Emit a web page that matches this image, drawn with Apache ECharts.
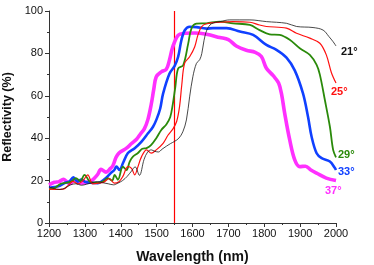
<!DOCTYPE html>
<html>
<head>
<meta charset="utf-8">
<script src="https://cdn.jsdelivr.net/npm/echarts@6/dist/echarts.min.js"></script>
<style>
html,body{margin:0;padding:0;background:#fff;}
#c{width:374px;height:265px;}
</style>
</head>
<body>
<div id="c"></div>
<script>
// Series names (angle labels)
const angleLabels = ['21°', '25°', '29°', '33°', '37°'];
const xTicks = [1200, 1300, 1400, 1500, 1600, 1700, 1800, 1900, 2000];
const yTicks = [0, 20, 40, 60, 80, 100];
const markerWavelength = 1550;

// 21°
const wl21 = [1200,1215,1230,1245,1260,1275,1290,1305,1320,1335,1350,1365,1380,1392,1405,1418,1430,1440,1452,1465,1475,1485,1495,1505,1515,1527,1539,1550,1562,1573,1583,1592,1601,1611,1620,1626,1632,1640,1653,1677,1704,1760,1806,1862,1890,1936,1964,1980,1992,2000];
const r21  = [17,16.3,15.8,16.5,18,18.5,17.8,18.3,19,19.5,19,18.5,18,18.8,20,22,24.5,26.5,22.5,30,33.5,34.5,33.8,33.5,34.8,36.2,37.5,38.5,40,43,48.6,59.5,69,75.3,77,80,86,91,94,95,95.8,95.8,95,94.2,92.7,92.2,91,88,85.5,83.5];

// 25°
const wl25 = [1200,1220,1240,1255,1266,1280,1295,1308,1322,1338,1353,1368,1382,1395,1406,1420,1430,1439,1448,1458,1472,1485,1499,1518,1532,1546,1556,1564,1570,1578,1592,1606,1615,1625,1639,1677,1713,1760,1787,1806,1862,1890,1927,1955,1973,1987,2000];
const r25  = [16,15.8,16,18,19.6,18.5,20,22.7,18.5,18.8,19.3,21,18.8,19.5,22,26.6,25.8,22.7,26.6,31.3,34.5,33,34.5,37.6,41.5,44.5,48,55,65,75.3,78.4,83,88.6,92.5,94,94.7,95,94.7,93.4,92.7,91.9,89.5,87.2,84.8,79.3,71,66];

// 29°
const wl29 = [1200,1215,1233,1250,1262,1275,1287,1299,1313,1325,1336,1350,1364,1376,1383,1392,1406,1416,1425,1434,1448,1460,1472,1485,1499,1513,1527,1538,1545,1552,1560,1574,1588,1597,1611,1639,1676,1713,1760,1787,1815,1843,1871,1899,1927,1946,1955,1969,1983,1992,2000];
const r29  = [16,16.5,18.5,19,19.5,21.2,19.8,22.7,19.6,19,19,19.5,21.2,20,22.7,20.4,26.6,25,29,31.3,33,35,35.3,36.8,40,43.9,46.5,50,56,64,72.9,74.4,84.6,91.7,94,94.2,95,94.2,93.4,91,89,88.7,86.4,82.4,79.3,74.6,70,58,45.4,34.5,31];

// 33°
const wl33 = [1200,1215,1230,1245,1256,1268,1280,1290,1300,1315,1336,1350,1359,1372,1382,1388,1397,1406,1420,1439,1458,1476,1490,1500,1510,1518,1536,1550,1560,1569,1578,1592,1611,1639,1657,1695,1732,1769,1806,1834,1862,1885,1908,1922,1932,1946,1960,1983,1997,2000];
const r33  = [16.5,17,17.5,19,19.5,21.5,19.5,20.5,19.5,19,18.8,20,21.2,23.5,25,26.6,25,28.2,33,35.3,38.4,42.3,45.4,49,54,61,70.5,74,78.4,86.2,90.8,92.6,92.4,91.7,91.9,91.9,90.3,88.7,84,81.7,78,72,61.1,50.1,40.7,32.9,30.6,29,25.9,25];

// 37°
const wl37 = [1200,1215,1228,1240,1250,1258,1271,1289,1305,1317,1327,1336,1345,1359,1370,1378,1387,1395,1416,1430,1444,1455,1466,1476,1485,1492,1499,1513,1527,1536,1543,1550,1560,1574,1606,1639,1676,1700,1722,1750,1775,1792,1806,1825,1840,1848,1857,1871,1885,1899,1915,1930,1946,1973,2000];
const r37  = [18,19.2,19.5,20.6,19.5,18.5,20.4,18.8,19.2,19.8,21.2,23,25.3,24,25.5,27,31,33,35.3,37.5,39.5,42,44.5,49,56,63,69,71.3,72.5,77,82,85.4,88.6,89.4,89.6,89,87.5,86.5,83.5,81.5,80.5,78.5,73,69.5,66,61,51.7,39.2,29.8,26.6,26.8,25,23.5,21.2,20];

const seriesData = [
  {wl: wl21, r: r21, color: '#1a1a1a', labelColor: '#111111', width: 0.8, offset: [3, 6]},
  {wl: wl25, r: r25, color: '#ff1010', labelColor: '#ff1010', width: 1.2, offset: [-7, 9]},
  {wl: wl29, r: r29, color: '#2a8a0a', labelColor: '#2a8a0a', width: 1.8, offset: [0, -2]},
  {wl: wl33, r: r33, color: '#1040ff', labelColor: '#1040ff', width: 2.6, offset: [0, 2]},
  {wl: wl37, r: r37, color: '#ff30ff', labelColor: '#ff30ff', width: 3.6, offset: [-13, 10]}
];

const chart = echarts.init(document.getElementById('c'), null, {renderer: 'canvas'});
const FONT = '"Liberation Sans", Arial, sans-serif';

const series = seriesData.map((s, i) => ({
  type: 'line',
  name: angleLabels[i],
  data: s.wl.map((x, k) => [x, s.r[k]]),
  smooth: 0.35,
  showSymbol: false,
  symbol: 'none',
  lineStyle: {color: s.color, width: s.width},
  itemStyle: {color: s.color},
  z: 10 - i,
  endLabel: {
    show: true,
    formatter: angleLabels[i],
    color: s.labelColor,
    fontFamily: FONT,
    fontWeight: 'bold',
    fontSize: 11,
    distance: 2,
    offset: s.offset
  }
}));

series.push({
  type: 'line',
  data: [],
  markLine: {
    silent: true,
    symbol: 'none',
    label: {show: false},
    lineStyle: {color: '#ff0000', width: 1.2, type: 'solid'},
    data: [{xAxis: markerWavelength}]
  }
});

chart.setOption({
  animation: false,
  backgroundColor: '#ffffff',
  grid: {left: 49, right: 38, top: 11, bottom: 42, containLabel: false, outerBoundsMode: 'none'},
  xAxis: {
    type: 'value',
    min: xTicks[0],
    max: xTicks[xTicks.length - 1],
    interval: 100,
    name: 'Wavelength (nm)',
    nameLocation: 'middle',
    nameGap: 27,
    nameTextStyle: {fontFamily: FONT, fontWeight: 'bold', fontSize: 14, color: '#111'},
    axisLine: {show: true, lineStyle: {color: '#333', width: 1}},
    axisTick: {show: true, inside: false, length: 4, lineStyle: {color: '#333'}},
    minorTick: {show: true, splitNumber: 2, length: 2, lineStyle: {color: '#333'}},
    axisLabel: {fontFamily: FONT, fontSize: 11, color: '#111', margin: 5,
      formatter: v => xTicks.includes(v) ? String(v) : ''},
    splitLine: {show: false}
  },
  yAxis: {
    type: 'value',
    min: yTicks[0],
    max: yTicks[yTicks.length - 1],
    interval: 20,
    name: 'Reflectivity (%)',
    nameLocation: 'middle',
    nameGap: 29,
    nameRotate: 90,
    nameTextStyle: {fontFamily: FONT, fontWeight: 'bold', fontSize: 12.5, color: '#111'},
    axisLine: {show: true, lineStyle: {color: '#333', width: 1}},
    axisTick: {show: true, inside: false, length: 4, lineStyle: {color: '#333'}},
    minorTick: {show: true, splitNumber: 2, length: 2, lineStyle: {color: '#333'}},
    axisLabel: {fontFamily: FONT, fontSize: 11, color: '#111', margin: 6,
      formatter: v => yTicks.includes(v) ? String(v) : ''},
    splitLine: {show: false}
  },
  series: series
});
</script>
</body>
</html>
